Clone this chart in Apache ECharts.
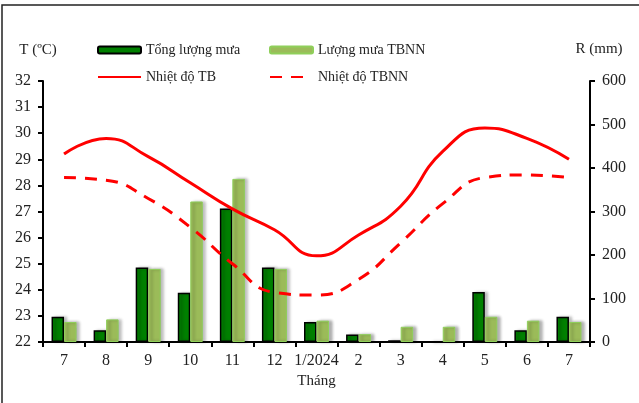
<!DOCTYPE html>
<html><head><meta charset="utf-8">
<script src="https://cdn.jsdelivr.net/npm/echarts@6/dist/echarts.min.js"></script>
<style>html,body{margin:0;padding:0;background:#fff}#c{width:639px;height:403px}</style>
</head><body><div id="c"></div>
<script>
var months = ['7','8','9','10','11','12','1/2024','2','3','4','5','6','7'];
var rainTotal = [58, 27, 171, 113, 307, 171, 46, 17, 4, 0, 115, 27, 58];
var rainNormal = [46, 52, 168, 323, 375, 168, 49, 18, 35, 35, 58, 49, 46];
var tempMean = [29.2, 29.8, 29.1, 28.1, 27.1, 26.3, 25.3, 26.1, 27.2, 29.3, 30.2, 29.8, 29.0];
var tempNormal = [28.3, 28.2, 27.5, 26.4, 25.0, 23.9, 23.8, 24.4, 25.8, 27.3, 28.3, 28.4, 28.3];

var FONT = "'Liberation Serif','Times New Roman',serif";
var TXT = '#222';
var chart = echarts.init(document.getElementById('c'), null, {renderer:'canvas'});
function leg(name, left, top, w, h, isLine) {
  var o = {data:[name], left:left, top:top, padding:0, itemWidth:w, itemHeight:h, itemGap:0,
    textStyle:{fontFamily:FONT, fontSize:14, color:TXT}, selectedMode:false};
  if (isLine) { o.itemStyle = {opacity:0}; }
  return o;
}
var legends = [leg('Tổng lượng mưa', 97, 43, 43, 7), leg('Lượng mưa TBNN', 269, 43, 43, 7),
               leg('Nhiệt độ TB', 97, 70, 43, 14, true), leg('Nhiệt độ TBNN', 269, 70, 33, 14, true)];
legends[3].textStyle.padding = [0, 0, 0, 10];
chart.setOption({
  animation:false,
  backgroundColor:'#fff',
  graphic:[{type:'rect', shape:{x:2, y:5, width:700, height:500}, style:{fill:'none', stroke:'#222', lineWidth:1.5}, silent:true}],
  legend: legends,
  grid:{left:43, right:49, top:81, bottom:61},
  xAxis:{type:'category', data:months, boundaryGap:true,
    name:'Tháng', nameLocation:'middle', nameGap:32,
    nameTextStyle:{fontFamily:FONT, fontSize:15, color:TXT},
    axisLine:{lineStyle:{color:'#000', width:2}},
    axisTick:{show:true, interval:0, length:5, lineStyle:{color:'#000', width:2}},
    axisLabel:{interval:0, margin:11, fontFamily:FONT, fontSize:16, color:TXT}},
  yAxis:[
    {type:'value', min:22, max:32, interval:1, position:'left',
     name:'T (ºC)', nameLocation:'end', nameGap:23,
     nameTextStyle:{fontFamily:FONT, fontSize:15, color:TXT, padding:[0,10,0,0]},
     axisLine:{show:true, lineStyle:{color:'#000', width:2}},
     axisTick:{show:true, length:5, lineStyle:{color:'#000', width:2}},
     splitLine:{show:false},
     axisLabel:{margin:12, fontFamily:FONT, fontSize:16, color:TXT}},
    {type:'value', min:0, max:600, interval:100, position:'right',
     name:'R (mm)', nameLocation:'end', nameGap:24,
     nameTextStyle:{fontFamily:FONT, fontSize:15, color:TXT, padding:[0,0,0,18]},
     axisLine:{show:true, lineStyle:{color:'#000', width:2}},
     axisTick:{show:true, length:5, lineStyle:{color:'#000', width:2}},
     splitLine:{show:false},
     axisLabel:{margin:12, fontFamily:FONT, fontSize:16, color:TXT}}
  ],
  series:[
    {name:'Tổng lượng mưa', type:'bar', yAxisIndex:1, data:rainTotal, barWidth:12.5, barGap:'0%',
     itemStyle:{color:'#008000', borderColor:'#000', borderWidth:1.5,
       shadowColor:'rgba(0,0,0,0.3)', shadowBlur:3, shadowOffsetX:3}},
    {name:'Lượng mưa TBNN', type:'bar', yAxisIndex:1, data:rainNormal, barWidth:12.5, barGap:'0%',
     itemStyle:{color:'#9BBB59', borderColor:'#8FCF5A', borderWidth:1,
       shadowColor:'rgba(0,0,0,0.3)', shadowBlur:3, shadowOffsetX:3}},
    {name:'Nhiệt độ TB', type:'line', yAxisIndex:0, data:tempMean, smooth:0.5, symbol:'none',
     lineStyle:{color:'#FF0000', width:3}, itemStyle:{color:'#FF0000'}},
    {name:'Nhiệt độ TBNN', type:'line', yAxisIndex:0, data:tempNormal, smooth:0.5, symbol:'none',
     lineStyle:{color:'#FF0000', width:3, type:[12,9]}, itemStyle:{color:'#FF0000'}}
  ]
});
</script></body></html>
